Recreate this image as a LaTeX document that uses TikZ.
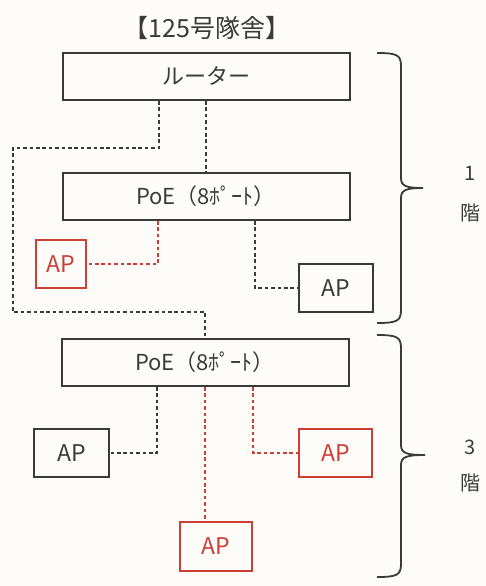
\documentclass[tikz,border=0pt]{standalone}
\usepackage{fontspec}
\newfontfamily\jpfont{Noto Sans CJK JP}
\usepackage{tikz}
\usetikzlibrary{positioning}
\definecolor{ink}{RGB}{58,58,58}
\definecolor{redink}{RGB}{205,62,55}
\tikzstyle{link} = [ink, line width=1.9pt, dash pattern=on 3.6pt off 2.8pt]
\tikzstyle{redlink} = [link, redink]

\begin{document}
\begin{tikzpicture}[x=1pt, y=-1pt,
		region/.style={
			rectangle,
			draw=ink,
			text=ink,
			line width=2pt,
			font=\jpfont\fontsize{22}{22}\selectfont,
			align=center,
			minimum width=287pt,
			minimum height=47pt},
		ap/.style={region, minimum width=74pt, minimum height=48pt, font=\jpfont\fontsize{23}{23}\selectfont},
		redap/.style={ap, draw=redink, text=redink},
		floorbrace/.style={ink, line width=1.8pt},
		floor/.style={ink, font=\jpfont\fontsize{20}{20}\selectfont}]

		\useasboundingbox[fill={rgb,255:red,253;green,252;blue,248}] (0,0) rectangle (486,586);

		\node (title) [ink, font=\jpfont\fontsize{25}{25}\selectfont] at (207,28) {【125号隊舎】};

		\node (router) [region] at (206,76.5) {ルーター};
		\node (poeA) [region, below=71pt of router] {PoE（8ﾎﾟｰﾄ）};
		\node (poeB) [region, below=117pt of poeA, xshift=-1pt] {PoE（8ﾎﾟｰﾄ）};

		\node (apA) [redap, minimum width=50pt] at (61,264) {AP};
		\node (apB) [ap] at (336,288) {AP};
		\node (apC) [ap, minimum width=75pt] at (71.5,453) {AP};
		\node (apE) [redap, minimum width=73pt] at (335.5,453) {AP};
		\node (apD) [redap, minimum width=72pt, minimum height=49pt] at (216,546.5) {AP};

		% 1st floor
		\draw[link] (router.south) -- (poeA.north);
		\draw[link] ([xshift=-47pt]router.south) -- ++(0,47) -| (13,312) -| (poeB.north);
		\draw[redlink] ([xshift=-48pt]poeA.south) |- (apA.east);
		\draw[link] ([xshift=49pt]poeA.south) |- (apB.west);

		% 3rd floor
		\draw[link] ([xshift=-48pt]poeB.south) |- (apC.east);
		\draw[redlink] (poeB.south) -- (poeB.south |- apD.north);
		\draw[redlink] ([xshift=48pt]poeB.south) |- (apE.west);

		% floor braces
		\draw[floorbrace] (377,53) .. controls (397,53) and (401,55) .. (401,66) -- (401,178)
			.. controls (401,186) and (406,188) .. (423,188)
			.. controls (406,188) and (401,190) .. (401,198) -- (401,310)
			.. controls (401,321) and (397,323) .. (377,323);
		\draw[floorbrace] (377,335) .. controls (397,335) and (401,337) .. (401,348) -- (401,445)
			.. controls (401,453) and (406,455) .. (425,455)
			.. controls (406,455) and (401,457) .. (401,465) -- (401,564)
			.. controls (401,575) and (397,577) .. (377,577);
		\node (floorA) [floor] at (470,173) {1};
		\node (floorAk) [floor] at (470,213) {階};
		\node (floorB) [floor] at (470,447) {3};
		\node (floorBk) [floor] at (470,483) {階};
	\end{tikzpicture}
\end{document}
